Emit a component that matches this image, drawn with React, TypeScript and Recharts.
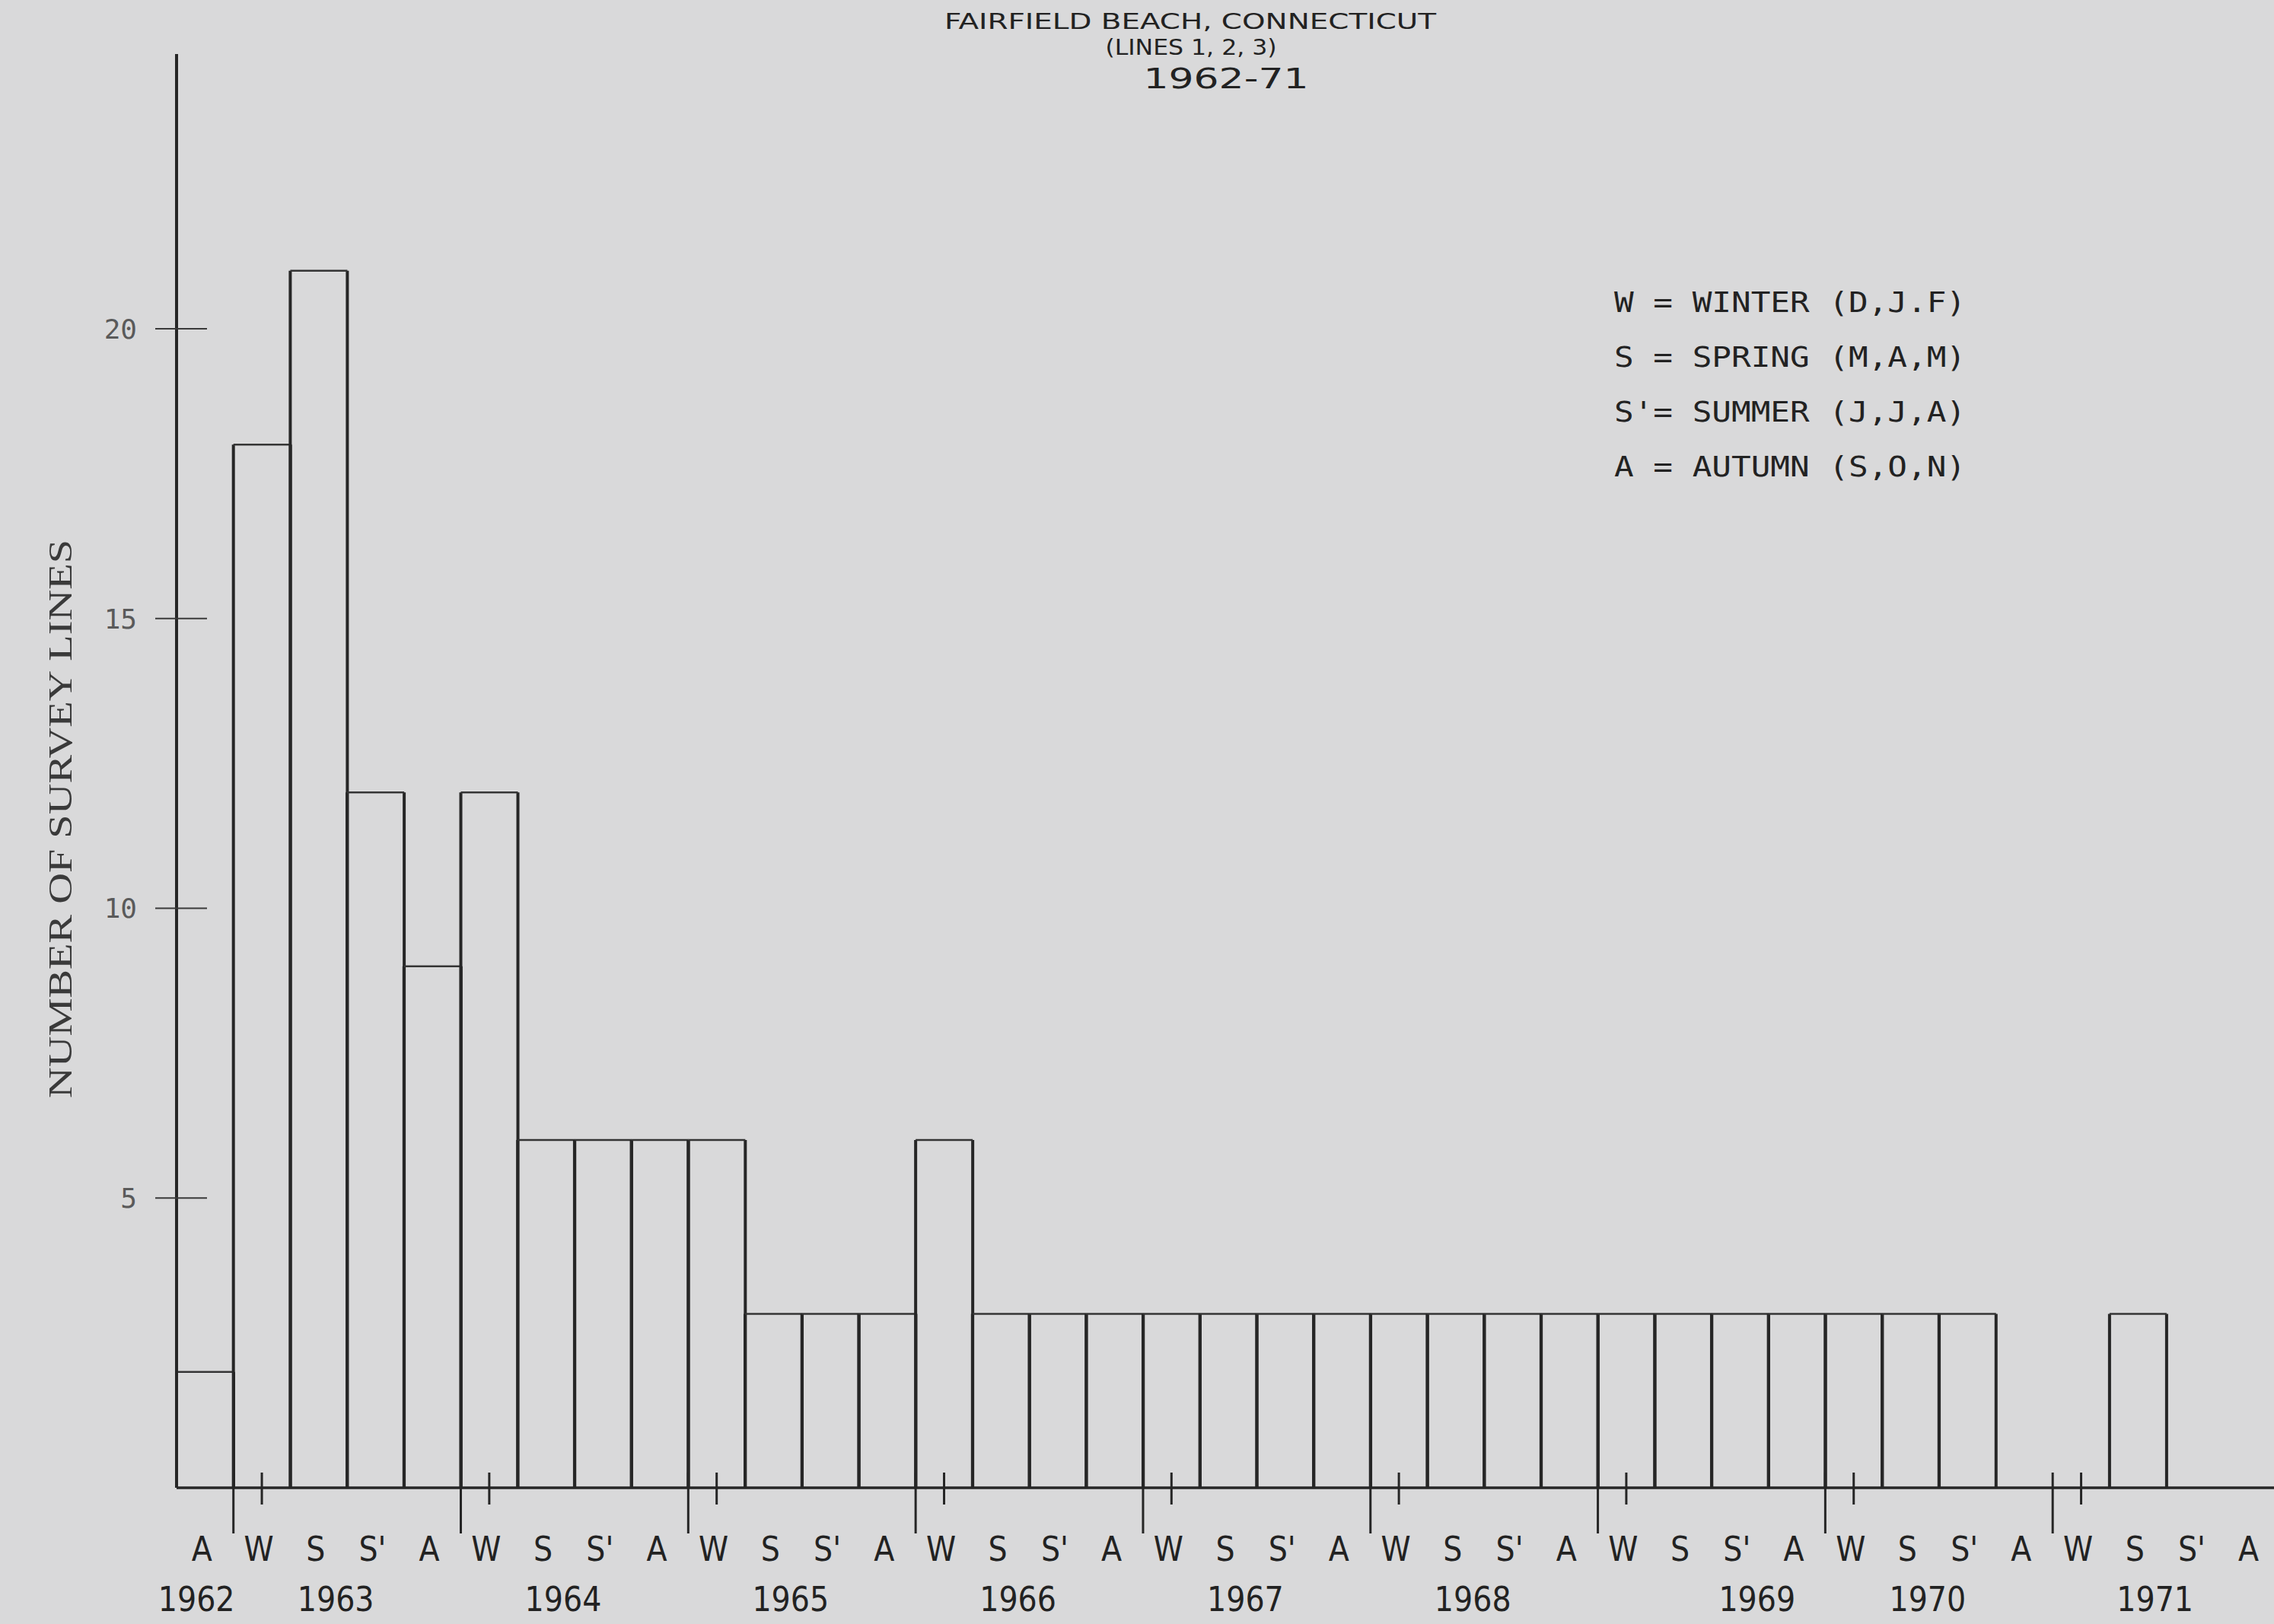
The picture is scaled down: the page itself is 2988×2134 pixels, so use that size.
import { BarChart, Bar, XAxis, YAxis } from 'recharts'

// one bar per season, autumn 1962 to autumn 1971
const seasons = [
  'A',
  'W', 'S', "S'", 'A',
  'W', 'S', "S'", 'A',
  'W', 'S', "S'", 'A',
  'W', 'S', "S'", 'A',
  'W', 'S', "S'", 'A',
  'W', 'S', "S'", 'A',
  'W', 'S', "S'", 'A',
  'W', 'S', "S'", 'A',
  'W', 'S', "S'", 'A'
]

const surveyLines = [
  2,
  18, 21, 12, 9,
  12, 6, 6, 6,
  6, 3, 3, 3,
  6, 3, 3, 3,
  3, 3, 3, 3,
  3, 3, 3, 3,
  3, 3, 3, 3,
  3, 3, 3, 0,
  0, 3, 0, 0
]

const yearLabels = [
  '1962',
  '', '1963', '', '',
  '', '1964', '', '',
  '', '1965', '', '',
  '', '1966', '', '',
  '', '1967', '', '',
  '', '1968', '', '',
  '', '', '1969', '',
  '', '1970', '', '',
  '', '1971', '', ''
]

const yTicks = [5, 10, 15, 20]

const legendLines = [
  'W = WINTER (D,J.F)',
  'S = SPRING (M,A,M)',
  "S'= SUMMER (J,J,A)",
  'A = AUTUMN (S,O,N)'
]

const data = seasons.map((s, i) => ({ season: s, lines: surveyLines[i], year: yearLabels[i] }))

const W = 3000
const H = 2134
const PLOT_LEFT = 232
const PLOT_RIGHT_PAD = 4
const BAND = (W - PLOT_LEFT - PLOT_RIGHT_PAD) / seasons.length
const INK = '#262626'
const NARROW = "'Liberation Sans Narrow', 'DejaVu Sans Condensed', 'Liberation Sans', sans-serif"

function SeasonTick(props: any) {
  const { x, y, payload } = props
  const i = payload?.index ?? props.index ?? 0
  const s = seasons[i]
  const yr = yearLabels[i]
  // first year label sits under its lone autumn bar, the others lean toward S'
  const yearShift = i === 0 ? -BAND * 0.15 : BAND * 0.3
  return (
    <g>
      {s === 'W' && (
        <>
          <line x1={x - BAND / 2} x2={x - BAND / 2} y1={y - 20} y2={y + 60} stroke={INK} strokeWidth={3} />
          <line x1={x} x2={x} y1={y - 20} y2={y + 22} stroke={INK} strokeWidth={3} />
        </>
      )}
      <text x={x - 4} y={y + 96} textAnchor="middle" fontFamily={NARROW} fontSize={44} fill="#222">
        {s}
      </text>
      {yr && (
        <text x={x + yearShift} y={y + 162} textAnchor="middle" fontFamily={NARROW} fontSize={44} fill="#222">
          {yr}
        </text>
      )}
    </g>
  )
}

function CountTick(props: any) {
  const { x, y, payload } = props
  return (
    <g>
      <line x1={x - 28} x2={x + 40} y1={y} y2={y} stroke="#3a3a3a" strokeWidth={2} />
      <text x={x - 52} y={y + 13} textAnchor="end" fontFamily="'DejaVu Sans Mono', monospace" fontSize={36} fill="#5a5a5a">
        {payload.value}
      </text>
    </g>
  )
}

function OpenBar(props: any) {
  const { x, y, width, height } = props
  if (!height || height <= 0) return null
  return (
    <g>
      <path d={`M${x},${y + height} L${x},${y} M${x + width},${y} L${x + width},${y + height}`} stroke={INK} strokeWidth={4} fill="none" />
      <path d={`M${x},${y} L${x + width},${y}`} stroke="#353535" strokeWidth={2.5} fill="none" />
    </g>
  )
}

export default function App() {
  return (
    <div style={{ position: 'absolute', left: 0, top: 0, width: 2988, height: H, overflow: 'hidden', background: '#d9d9da' }}>
      <BarChart
        width={W}
        height={H}
        data={data}
        barCategoryGap={0}
        margin={{ top: 71, right: PLOT_RIGHT_PAD, left: PLOT_LEFT - 100, bottom: 29 }}
      >
        <XAxis
          dataKey="season"
          height={150}
          interval={0}
          tickSize={0}
          tickMargin={0}
          tickLine={false}
          axisLine={{ stroke: INK, strokeWidth: 3.5 }}
          tick={<SeasonTick />}
        />
        <YAxis
          width={100}
          domain={[0, 24.74]}
          ticks={yTicks}
          allowDataOverflow
          tickSize={0}
          tickMargin={0}
          tickLine={false}
          axisLine={{ stroke: INK, strokeWidth: 4 }}
          tick={<CountTick />}
        />
        <Bar dataKey="lines" fill="none" shape={<OpenBar />} isAnimationActive={false} />
      </BarChart>

      <svg width={2988} height={H} style={{ position: 'absolute', left: 0, top: 0, pointerEvents: 'none' }}>
        <text x={1564} y={38} textAnchor="middle" fontFamily={NARROW} fontSize={28} fill="#222" textLength={646} lengthAdjust="spacingAndGlyphs">
          FAIRFIELD BEACH, CONNECTICUT
        </text>
        <text x={1565} y={72} textAnchor="middle" fontFamily={NARROW} fontSize={28} fill="#222" textLength={225} lengthAdjust="spacingAndGlyphs">
          (LINES 1, 2, 3)
        </text>
        <text x={1611} y={116} textAnchor="middle" fontFamily="'DejaVu Sans', sans-serif" fontSize={38} fill="#222" textLength={217} lengthAdjust="spacingAndGlyphs">
          1962-71
        </text>
        {legendLines.map((t, i) => (
          <text key={t} x={2121} y={410 + i * 72} fontFamily="'DejaVu Sans Mono', monospace" fontSize={38} fill="#222" textLength={462} lengthAdjust="spacingAndGlyphs" style={{ whiteSpace: 'pre' }}>
            {t}
          </text>
        ))}
        <text
          x={0}
          y={0}
          transform="translate(94,1076) rotate(-90)"
          textAnchor="middle"
          fontFamily="'Liberation Serif', serif"
          fontSize={44}
          fill="#3a3a3a"
          textLength={734}
          lengthAdjust="spacingAndGlyphs"
        >
          NUMBER OF SURVEY LINES
        </text>
      </svg>
    </div>
  )
}
